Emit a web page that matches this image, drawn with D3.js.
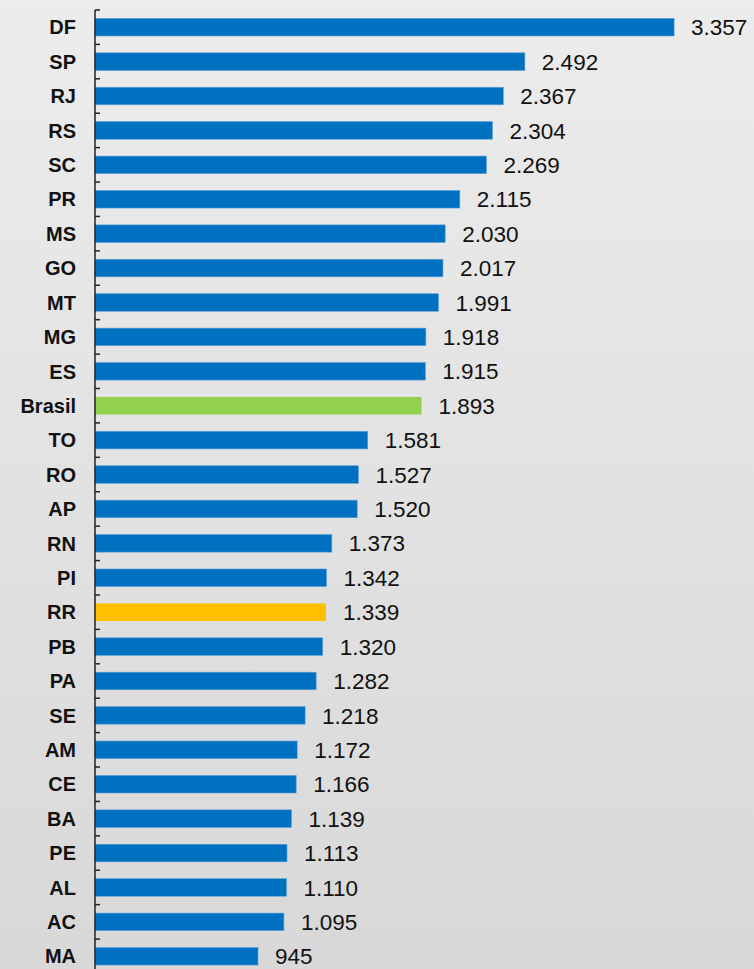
<!DOCTYPE html>
<html>
<head>
<meta charset="utf-8">
<script src="https://cdn.jsdelivr.net/npm/d3@7/dist/d3.min.js"></script>
<style>
  html, body { margin: 0; padding: 0; }
  svg { display: block; }
  text { font-family: "Liberation Sans", Arial, Helvetica, sans-serif; }
</style>
</head>
<body>
<svg id="chart" width="754" height="969"></svg>
<script>
// Values per state (per capita), sorted as in the source chart
const categories = ['DF', 'SP', 'RJ', 'RS', 'SC', 'PR', 'MS', 'GO', 'MT', 'MG', 'ES', 'Brasil',
    'TO', 'RO', 'AP', 'RN', 'PI', 'RR', 'PB', 'PA', 'SE', 'AM', 'CE', 'BA', 'PE', 'AL', 'AC', 'MA'];
const values = [3357, 2492, 2367, 2304, 2269, 2115, 2030, 2017, 1991, 1918, 1915, 1893,
    1581, 1527, 1520, 1373, 1342, 1339, 1320, 1282, 1218, 1172, 1166, 1139, 1113, 1110, 1095, 945];
const highlights = { 'Brasil': '#92D050', 'RR': '#FFC000' };

const width = 754, height = 969;
const axisX = 95, topY = 10, step = 34.41;
const barColor = '#0070C0';

const svg = d3.select('#chart');

// Background gradient (light at top, darker at bottom)
const defs = svg.append('defs');
const grad = defs.append('linearGradient')
    .attr('id', 'bg')
    .attr('x1', 0).attr('y1', 0).attr('x2', 0).attr('y2', 1);
grad.append('stop').attr('offset', '0%').attr('stop-color', '#ececec');
grad.append('stop').attr('offset', '100%').attr('stop-color', '#d8d8d8');
svg.append('rect')
    .attr('width', width).attr('height', height)
    .attr('fill', 'url(#bg)');

const data = categories.map((c, i) => ({ name: c, value: values[i] }));

// Scales
const y = d3.scaleBand()
    .domain(categories)
    .range([topY, topY + categories.length * step])
    .paddingInner(0.49)
    .paddingOuter(0.245);

const x = d3.scaleLinear()
    .domain([0, 3500])
    .range([axisX, axisX + 3500 * 0.1725]);

const pt = d3.formatLocale({ decimal: ',', thousands: '.', grouping: [3], currency: ['R$', ''] });
const fmt = pt.format(',d');

// Bars
svg.append('g')
    .attr('class', 'bars')
    .selectAll('rect')
    .data(data)
    .join('rect')
    .attr('x', x(0))
    .attr('y', d => y(d.name))
    .attr('width', d => x(d.value) - x(0))
    .attr('height', y.bandwidth())
    .attr('fill', d => highlights[d.name] || barColor)
    .attr('stroke', d => highlights[d.name] ? 'none' : '#5a9fd8')
    .attr('stroke-width', 0.6);

// Value labels
const valueSize = 22.5;
svg.append('g')
    .attr('class', 'values')
    .selectAll('text')
    .data(data)
    .join('text')
    .attr('x', d => x(d.value) + 17)
    .attr('y', d => y(d.name) + y.bandwidth() / 2 + valueSize * 0.36)
    .attr('font-size', valueSize)
    .attr('fill', '#111')
    .text(d => fmt(d.value));

// Category axis: line plus ticks at band boundaries
const labelSize = 20;
const axis = svg.append('g').attr('class', 'axis');
axis.append('line')
    .attr('x1', axisX).attr('x2', axisX)
    .attr('y1', topY).attr('y2', height)
    .attr('stroke', '#222')
    .attr('stroke-width', 1.5);

axis.selectAll('line.tick')
    .data(categories)
    .join('line')
    .attr('class', 'tick')
    .attr('x1', axisX).attr('x2', axisX + 5)
    .attr('y1', d => y(d) - y.step() * y.paddingInner() / 2)
    .attr('y2', d => y(d) - y.step() * y.paddingInner() / 2)
    .attr('stroke', '#222')
    .attr('stroke-width', 1.5);

axis.selectAll('text')
    .data(categories)
    .join('text')
    .attr('x', 76)
    .attr('y', d => y(d) + y.bandwidth() / 2 + labelSize * 0.36)
    .attr('text-anchor', 'end')
    .attr('font-weight', 'bold')
    .attr('font-size', labelSize)
    .attr('fill', '#111')
    .text(d => d);
</script>
</body>
</html>
